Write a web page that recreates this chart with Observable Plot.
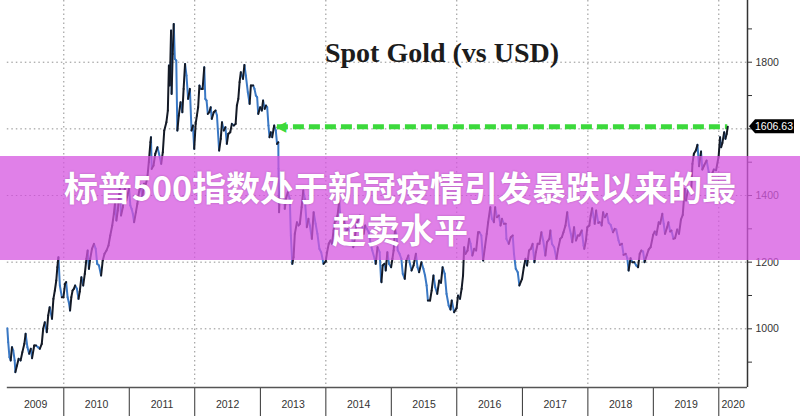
<!DOCTYPE html>
<html>
<head>
<meta charset="utf-8">
<script src="https://cdn.jsdelivr.net/npm/d3@7"></script>
<script src="https://cdn.jsdelivr.net/npm/@observablehq/plot@0.6"></script>
<style>
  html, body { margin: 0; padding: 0; background: #fff; }
  #wrap { position: relative; width: 800px; height: 416px; overflow: hidden; }
  #banner {
    position: absolute; left: 0; top: 156px; width: 800px; height: 104px;
    background: rgba(214, 86, 224, 0.75);
    display: flex; flex-direction: column; align-items: center; justify-content: center;
    color: #fff; font-family: "Noto Sans CJK SC", sans-serif; font-weight: 700;
    font-size: 34px; line-height: 42px; text-align: center;
    text-shadow: 0 0 2px rgba(110, 40, 120, 0.45);
  }
</style>
</head>
<body>
<div id="wrap">
  <div id="chart"></div>
  <div id="banner"><div id="line1"></div><div id="line2"></div></div>
</div>
<script>
// ---- text ----
const chartTitle = "Spot Gold (vs USD)";
const bannerLines = ["标普500指数处于新冠疫情引发暴跌以来的最", "超卖水平"];
const lastPriceLabel = "1606.63";
const lastPrice = 1606.63;
const arrowDate = "2013-04-06";

// ---- tick values ----
const yMajorTicks = [1000, 1200, 1400, 1600, 1800];
const yLabelledTicks = [1000, 1200, 1400, 1800]; // 1600 sits under the last-price tag
const yAllTicks = [900, 1000, 1100, 1200, 1300, 1400, 1500, 1600, 1700, 1800, 1900];
const yearLabels = [2009, 2010, 2011, 2012, 2013, 2014, 2015, 2016, 2017, 2018, 2019, 2020];
const gridYears = [2010, 2012, 2014, 2016, 2018, 2020];

// ---- spot gold (USD/oz) ----
const gold2009 = [["2009-02-20",1002],["2009-02-25",960],["2009-03-04",915],["2009-03-11",905],["2009-03-18",945],["2009-03-25",935],["2009-04-02",905],["2009-04-06",870],["2009-04-15",890],["2009-04-24",910],["2009-05-05",905],["2009-05-15",930],["2009-05-26",955],["2009-06-02",985],["2009-06-12",945],["2009-06-22",925],["2009-07-01",940],["2009-07-08",912],["2009-07-20",950],["2009-07-30",950],["2009-08-10",945],["2009-08-20",940],["2009-08-31",955],["2009-09-08",1000],["2009-09-17",1020],["2009-09-28",990],["2009-10-06",1040],["2009-10-14",1065],["2009-10-27",1030],["2009-11-04",1090],["2009-11-12",1115],["2009-11-20",1145],["2009-11-26",1185],["2009-12-02",1215],["2009-12-10",1130],["2009-12-21",1095],["2009-12-30",1095]];
const gold2010 = [["2010-01-08",1135],["2010-01-14",1140],["2010-01-22",1095],["2010-01-29",1080],["2010-02-05",1055],["2010-02-12",1095],["2010-02-19",1115],["2010-02-26",1120],["2010-03-05",1130],["2010-03-15",1120],["2010-03-24",1090],["2010-03-31",1112],["2010-04-09",1155],["2010-04-19",1130],["2010-04-28",1165],["2010-05-07",1210],["2010-05-14",1235],["2010-05-21",1180],["2010-05-28",1210],["2010-06-07",1240],["2010-06-18",1255],["2010-06-28",1240],["2010-07-06",1195],["2010-07-16",1190],["2010-07-28",1160],["2010-08-06",1205],["2010-08-16",1225],["2010-08-27",1235],["2010-09-07",1250],["2010-09-17",1280],["2010-09-28",1310],["2010-10-07",1345],["2010-10-14",1380],["2010-10-21",1325],["2010-10-29",1355],["2010-11-09",1420],["2010-11-16",1340],["2010-11-26",1365],["2010-12-07",1420],["2010-12-15",1385],["2010-12-31",1420]];
const gold2011 = [["2011-01-07",1370],["2011-01-14",1360],["2011-01-21",1345],["2011-01-28",1320],["2011-02-07",1350],["2011-02-15",1375],["2011-02-24",1410],["2011-03-04",1430],["2011-03-15",1395],["2011-03-24",1435],["2011-04-04",1435],["2011-04-12",1455],["2011-04-20",1500],["2011-04-29",1560],["2011-05-02",1575],["2011-05-06",1480],["2011-05-16",1490],["2011-05-26",1525],["2011-06-07",1545],["2011-06-16",1525],["2011-06-28",1495],["2011-07-07",1530],["2011-07-15",1595],["2011-07-27",1620],["2011-08-04",1655],["2011-08-10",1790],["2011-08-15",1730],["2011-08-22",1895],["2011-08-25",1705],["2011-08-31",1825],["2011-09-06",1915],["2011-09-12",1810],["2011-09-20",1805],["2011-09-26",1595],["2011-10-04",1640],["2011-10-14",1680],["2011-10-24",1650],["2011-10-31",1720],["2011-11-08",1795],["2011-11-16",1760],["2011-11-25",1690],["2011-12-05",1720],["2011-12-14",1595],["2011-12-22",1610],["2011-12-29",1540]];
const gold2012 = [["2012-01-06",1615],["2012-01-13",1640],["2012-01-20",1665],["2012-01-27",1730],["2012-02-06",1720],["2012-02-14",1720],["2012-02-23",1785],["2012-02-29",1690],["2012-03-07",1685],["2012-03-14",1645],["2012-03-22",1650],["2012-03-30",1665],["2012-04-05",1630],["2012-04-16",1650],["2012-04-26",1655],["2012-05-04",1640],["2012-05-16",1535],["2012-05-25",1570],["2012-06-01",1620],["2012-06-11",1595],["2012-06-20",1605],["2012-06-28",1555],["2012-07-06",1585],["2012-07-17",1590],["2012-07-26",1615],["2012-08-06",1610],["2012-08-16",1615],["2012-08-23",1670],["2012-08-31",1690],["2012-09-07",1740],["2012-09-14",1770],["2012-09-26",1750],["2012-10-04",1792],["2012-10-12",1760],["2012-10-23",1710],["2012-11-02",1675],["2012-11-09",1730],["2012-11-22",1730],["2012-11-29",1720],["2012-12-07",1700],["2012-12-14",1695],["2012-12-20",1645],["2012-12-31",1665]];
const gold2013 = [["2013-01-09",1655],["2013-01-16",1685],["2013-01-25",1660],["2013-02-01",1670],["2013-02-08",1665],["2013-02-15",1610],["2013-02-21",1575],["2013-02-28",1590],["2013-03-08",1575],["2013-03-19",1610],["2013-03-28",1595],["2013-04-04",1555],["2013-04-11",1560],["2013-04-12",1480],["2013-04-15",1350],["2013-04-19",1400],["2013-04-29",1470],["2013-05-08",1470],["2013-05-17",1360],["2013-05-24",1390],["2013-06-03",1410],["2013-06-14",1390],["2013-06-20",1280],["2013-06-28",1195],["2013-07-05",1215],["2013-07-12",1285],["2013-07-24",1320],["2013-08-02",1310],["2013-08-09",1315],["2013-08-19",1365],["2013-08-28",1415],["2013-09-06",1390],["2013-09-17",1305],["2013-09-26",1330],["2013-10-04",1310],["2013-10-15",1270],["2013-10-25",1350],["2013-11-05",1315],["2013-11-15",1285],["2013-11-26",1240],["2013-12-06",1230],["2013-12-19",1195],["2013-12-31",1202]];
const gold2014 = [["2014-01-08",1230],["2014-01-17",1255],["2014-01-27",1265],["2014-02-04",1255],["2014-02-13",1295],["2014-02-21",1325],["2014-02-28",1325],["2014-03-07",1340],["2014-03-17",1385],["2014-03-27",1295],["2014-04-04",1305],["2014-04-14",1325],["2014-04-24",1290],["2014-05-02",1300],["2014-05-13",1295],["2014-05-23",1290],["2014-06-03",1245],["2014-06-13",1275],["2014-06-20",1315],["2014-06-30",1325],["2014-07-10",1340],["2014-07-21",1310],["2014-07-31",1285],["2014-08-08",1310],["2014-08-18",1300],["2014-08-28",1290],["2014-09-08",1255],["2014-09-17",1235],["2014-09-30",1210],["2014-10-06",1195],["2014-10-16",1245],["2014-10-28",1230],["2014-11-05",1145],["2014-11-07",1140],["2014-11-14",1190],["2014-11-24",1195],["2014-12-01",1175],["2014-12-10",1230],["2014-12-19",1195],["2014-12-31",1185]];
const gold2015 = [["2015-01-07",1210],["2015-01-14",1235],["2015-01-22",1300],["2015-01-30",1280],["2015-02-06",1235],["2015-02-16",1225],["2015-02-26",1210],["2015-03-06",1165],["2015-03-17",1150],["2015-03-26",1205],["2015-04-06",1220],["2015-04-15",1195],["2015-04-24",1175],["2015-05-05",1190],["2015-05-18",1225],["2015-05-27",1185],["2015-06-05",1170],["2015-06-18",1200],["2015-06-29",1180],["2015-07-08",1160],["2015-07-17",1130],["2015-07-24",1085],["2015-08-05",1085],["2015-08-14",1115],["2015-08-24",1160],["2015-09-03",1125],["2015-09-14",1105],["2015-09-25",1145],["2015-10-05",1138],["2015-10-14",1185],["2015-10-26",1165],["2015-11-05",1105],["2015-11-17",1070],["2015-11-27",1058],["2015-12-04",1085],["2015-12-17",1050],["2015-12-31",1062]];
const gold2016 = [["2016-01-08",1100],["2016-01-19",1090],["2016-01-28",1120],["2016-02-05",1160],["2016-02-11",1245],["2016-02-19",1225],["2016-03-01",1235],["2016-03-10",1270],["2016-03-18",1255],["2016-03-28",1220],["2016-04-07",1240],["2016-04-18",1235],["2016-04-29",1290],["2016-05-06",1290],["2016-05-17",1280],["2016-05-27",1205],["2016-06-06",1245],["2016-06-16",1285],["2016-06-24",1320],["2016-07-06",1365],["2016-07-15",1330],["2016-07-26",1320],["2016-08-02",1365],["2016-08-12",1335],["2016-08-23",1340],["2016-09-01",1310],["2016-09-09",1330],["2016-09-20",1315],["2016-09-30",1315],["2016-10-04",1270],["2016-10-17",1255],["2016-10-28",1275],["2016-11-08",1280],["2016-11-15",1225],["2016-11-25",1180],["2016-12-06",1170],["2016-12-15",1130],["2016-12-30",1150]];
const gold2017 = [["2017-01-09",1185],["2017-01-18",1210],["2017-01-27",1190],["2017-02-07",1235],["2017-02-17",1240],["2017-02-27",1255],["2017-03-09",1200],["2017-03-17",1230],["2017-03-27",1255],["2017-04-06",1255],["2017-04-17",1290],["2017-04-27",1265],["2017-05-09",1220],["2017-05-18",1260],["2017-05-31",1270],["2017-06-06",1295],["2017-06-15",1255],["2017-06-27",1245],["2017-07-10",1210],["2017-07-19",1240],["2017-07-31",1270],["2017-08-09",1275],["2017-08-18",1290],["2017-08-29",1310],["2017-09-08",1350],["2017-09-18",1310],["2017-09-28",1285],["2017-10-06",1260],["2017-10-16",1305],["2017-10-27",1265],["2017-11-06",1280],["2017-11-15",1280],["2017-11-28",1295],["2017-12-08",1250],["2017-12-12",1240],["2017-12-21",1265],["2017-12-29",1305]];
const gold2018 = [["2018-01-09",1310],["2018-01-17",1340],["2018-01-25",1362],["2018-02-02",1335],["2018-02-08",1315],["2018-02-16",1355],["2018-02-28",1318],["2018-03-08",1320],["2018-03-19",1310],["2018-03-27",1350],["2018-04-06",1335],["2018-04-17",1345],["2018-04-27",1318],["2018-05-08",1312],["2018-05-21",1290],["2018-05-31",1300],["2018-06-08",1298],["2018-06-21",1265],["2018-06-29",1252],["2018-07-10",1255],["2018-07-19",1222],["2018-07-31",1225],["2018-08-09",1212],["2018-08-16",1175],["2018-08-27",1212],["2018-09-06",1200],["2018-09-17",1200],["2018-09-28",1190],["2018-10-08",1185],["2018-10-17",1225],["2018-10-26",1235],["2018-11-05",1232],["2018-11-13",1200],["2018-11-26",1222],["2018-12-06",1238],["2018-12-17",1245],["2018-12-31",1282]];
const gold2019 = [["2019-01-09",1292],["2019-01-18",1282],["2019-01-31",1320],["2019-02-08",1315],["2019-02-20",1345],["2019-02-28",1315],["2019-03-07",1285],["2019-03-19",1305],["2019-03-26",1320],["2019-04-05",1292],["2019-04-12",1295],["2019-04-23",1270],["2019-05-02",1272],["2019-05-14",1298],["2019-05-24",1285],["2019-06-04",1328],["2019-06-14",1342],["2019-06-25",1420],["2019-07-02",1385],["2019-07-12",1415],["2019-07-19",1425],["2019-07-31",1412],["2019-08-07",1495],["2019-08-15",1525],["2019-08-26",1535],["2019-09-04",1552],["2019-09-13",1488],["2019-09-24",1532],["2019-10-01",1478],["2019-10-11",1490],["2019-10-25",1505],["2019-11-06",1470],["2019-11-12",1450],["2019-11-22",1462],["2019-12-04",1478],["2019-12-17",1476],["2019-12-31",1517]];
const gold2020 = [["2020-01-08",1575],["2020-01-14",1545],["2020-01-21",1558],["2020-01-31",1590],["2020-02-07",1570],["2020-02-14",1585],["2020-02-20",1606.63]];

// ---- build table ----
const series = [gold2009, gold2010, gold2011, gold2012, gold2013, gold2014, gold2015, gold2016, gold2017, gold2018, gold2019, gold2020]
  .flat().map(([d, v]) => ({date: new Date(d + "T00:00:00Z"), price: v}));
const segments = d3.pairs(series).map(([a, b]) => ({x1: a.date, y1: a.price, x2: b.date, y2: b.price, up: b.price >= a.price}));
const firstDate = series[0].date;
const lastDate = series[series.length - 1].date;
const xDomain = [new Date("2009-01-13T00:00:00Z"), new Date("2020-06-09T00:00:00Z")];
const yDomain = [823.9, 1985.2];
const utcYear = y => new Date(Date.UTC(y, 0, 1));
const yearStarts = yearLabels.slice(1).map(utcYear);
const labelRows = yearLabels.map(y => {
  const a = Math.max(+utcYear(y), +firstDate), b = Math.min(+utcYear(y + 1), +xDomain[1]);
  return {label: String(y), mid: new Date((a + b) / 2)};
});
const arrowAt = new Date(arrowDate + "T00:00:00Z");

const green = "#3cd93c";
const gridStyle = {stroke: "#8f8f8f", strokeWidth: 1, strokeDasharray: "1.5,3"};

const chart = Plot.plot({
  width: 800, height: 416,
  marginLeft: 0, marginRight: 53, marginTop: 0, marginBottom: 29,
  style: {fontFamily: "'Liberation Sans', Arial, sans-serif", fontSize: "10.5px", color: "#333", background: "#fff", overflow: "visible"},
  x: {type: "utc", domain: xDomain, ticks: yearStarts, tickFormat: () => "", tickSize: 30, label: null},
  y: {domain: yDomain, axis: "right", ticks: yAllTicks, tickFormat: d => yLabelledTicks.includes(d) ? String(d) : "", tickSize: 4, tickPadding: 4, label: null},
  marks: [
    Plot.ruleX(gridYears.map(utcYear), gridStyle),
    Plot.ruleY(yMajorTicks, {...gridStyle, x1: () => firstDate, x2: () => xDomain[1]}),
    Plot.ruleY([yDomain[0]], {x1: () => firstDate, x2: () => xDomain[1], stroke: "#555", strokeWidth: 1.5}),
    Plot.ruleX([xDomain[1]], {stroke: "#333", strokeWidth: 1.5}),
    Plot.ruleY([lastPrice], {x1: () => arrowAt, x2: () => lastDate, stroke: green, strokeWidth: 5, strokeDasharray: "11,5"}),
    Plot.text(["◀"], {text: d => d, x: () => arrowAt, y: () => lastPrice, textAnchor: "start", dx: -2, fill: green, fontSize: 14, fontFamily: "DejaVu Sans"}),
    Plot.link(segments.filter(d => !d.up), {x1: "x1", y1: "y1", x2: "x2", y2: "y2", stroke: "#3a78c4", strokeWidth: 2, strokeLinecap: "round"}),
    Plot.link(segments.filter(d => d.up), {x1: "x1", y1: "y1", x2: "x2", y2: "y2", stroke: "#141a26", strokeWidth: 2, strokeLinecap: "round"}),
    Plot.text([chartTitle], {text: d => d, frameAnchor: "top", dx: 68, dy: 42, fontSize: 28, fontFamily: "'Liberation Serif', serif", fontWeight: "bold", fill: "#1c1c1c"}),
    Plot.text(labelRows, {x: "mid", text: "label", frameAnchor: "bottom", dy: 20, fontSize: 10.5, fill: "#333"})
  ]
});

document.getElementById("chart").appendChild(chart);

// last-price tag on the right axis, placed through the plot's scales
const sy = chart.scale("y"), sx = chart.scale("x");
const ty = sy.apply(lastPrice), tx = sx.apply(xDomain[1]);
const g = d3.select(chart).append("g");
g.append("path")
  .attr("d", `M${tx + 2},${ty} L${tx + 8},${ty - 7} H${tx + 47} V${ty + 7} H${tx + 8} Z`)
  .attr("fill", "#000");
g.append("text")
  .attr("x", tx + 27).attr("y", ty).attr("dy", "0.35em")
  .attr("text-anchor", "middle").attr("fill", "#fff")
  .attr("font-size", 10.5).attr("font-family", "'Liberation Sans', Arial, sans-serif")
  .text(lastPriceLabel);

document.getElementById("line1").textContent = bannerLines[0];
document.getElementById("line2").textContent = bannerLines[1];
</script>
</body>
</html>
